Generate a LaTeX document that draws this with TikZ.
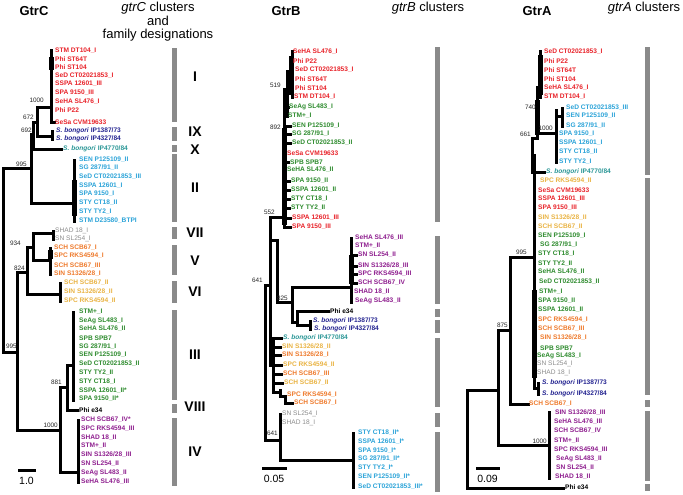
\documentclass[tikz,border=0pt]{standalone}
\usepackage{fontspec}
\setmainfont{Liberation Sans}
\definecolor{cR}{HTML}{E8232A}
\definecolor{cG}{HTML}{2E8B2E}
\definecolor{cC}{HTML}{2BA3D8}
\definecolor{cN}{HTML}{232390}
\definecolor{cT}{HTML}{2A9696}
\definecolor{cY}{HTML}{E9B343}
\definecolor{cO}{HTML}{EE7A2C}
\definecolor{cP}{HTML}{8E1E8E}
\definecolor{cGr}{HTML}{8C8C8C}
\definecolor{cK}{HTML}{000000}
\definecolor{barc}{HTML}{8A8A8A}
\newcommand\Lf[5]{\node[lf,text=#2] (#1) at (#3,#4) {#5};}
\newcommand\Lg[5]{\node[lfr,text=#2] (#1) at (#3,#4) {#5};}
\newcommand\Bs[4]{\node[bs] (#1) at (#2,#3) {#4};}
\newcommand\Sbong{\textit{S. bongori}}
\begin{document}
\begin{tikzpicture}[x=1pt,y=-1pt,
  lf/.style={anchor=west,inner sep=0pt,font=\fontsize{6.6}{7}\selectfont\bfseries},
  lfr/.style={anchor=west,inner sep=0pt,font=\fontsize{6.6}{7}\selectfont},
  bs/.style={anchor=east,inner sep=0pt,font=\fontsize{6.4}{7}\selectfont,text=black!85},
  br/.style={line width=3pt,line join=miter,line cap=rect},
  blob/.style={line width=5pt},
  ttl/.style={font=\fontsize{13}{15}\selectfont\bfseries,inner sep=0pt},
  hdr/.style={font=\fontsize{13}{13.5}\selectfont,inner sep=0pt,align=center},
  rom/.style={font=\fontsize{14}{14}\selectfont\bfseries,inner sep=0pt},
  scl/.style={font=\fontsize{10.5}{12}\selectfont,inner sep=0pt}]
\useasboundingbox (0,0) rectangle (683,495);

% ================= GtrC =================
\node[ttl] (tC) at (34,11) {GtrC};
\node[hdr] (hC) at (158,22) {\textit{gtrC} clusters\\and\\family designations};

\draw[br] (51,51)--(51,122)--(54,122);
\draw[blob] (51,57)--(51,70);
\draw[br] (37,107)--(51,107);
\draw[br] (37,107)--(37,136)--(52,136);
\draw[br] (52,131)--(52,139);
\draw[br] (33,122)--(37,122);
\draw[br] (33,122)--(33,149)--(61,149);
\draw[br] (31,134)--(33,134);
\draw[br] (31,134)--(31,203)--(74,203);
\draw[br] (74,160)--(74,221);
\draw[blob] (74,180)--(74,216);
\draw[br] (3,168)--(31,168);
\draw[br] (3,168)--(3,352)--(17,352);
\draw[br] (17,272)--(17,430)--(60,430);
\draw[br] (17,272)--(27,272);
\draw[br] (27,247)--(27,294)--(60,294);
\draw[br] (60,283)--(60,301);
\draw[br] (27,247)--(33,247);
\draw[br] (33,233)--(33,260);
\draw[br] (33,233)--(53,233);
\draw[br] (53,231)--(53,239);
\draw[br] (33,260)--(50,260);
\draw[br] (50,248)--(50,274);
\draw[blob] (50,250)--(50,259);
\draw[br] (60,387)--(60,472)--(78,472);
\draw[br] (78,420)--(78,482);
\draw[br] (60,387)--(67,387);
\draw[br] (67,365)--(67,410)--(77,410);
\draw[br] (67,365)--(73,365);
\draw[br] (73,312)--(73,400);

\Bs{bc1}{44}{100}{1000}
\Bs{bc2}{34}{117}{672}
\Bs{bc3}{32}{130}{692}
\Bs{bc4}{27}{164}{995}
\Bs{bc5}{21}{243}{934}
\Bs{bc6}{25}{268}{824}
\Bs{bc7}{17}{346}{995}
\Bs{bc8}{62}{382}{881}
\Bs{bc9}{58}{425}{1000}

\Lf{c1}{cR}{55}{51}{STM DT104\_I}
\Lf{c2}{cR}{55}{59}{Phi ST64T}
\Lf{c3}{cR}{55}{67}{Phi ST104}
\Lf{c4}{cR}{55}{76}{SeD CT02021853\_I}
\Lf{c5}{cR}{55}{84}{SSPA 12601\_III}
\Lf{c6}{cR}{55}{93}{SPA 9150\_III}
\Lf{c7}{cR}{55}{102}{SeHA SL476\_I}
\Lf{c8}{cR}{55}{110}{Phi P22}
\Lf{c9}{cR}{55}{122}{SeSa CVM19633}
\Lf{c10}{cN}{56}{131}{\Sbong\ IP1387/73}
\Lf{c11}{cN}{56}{139}{\Sbong\ IP4327/84}
\Lf{c12}{cT}{63}{149}{\Sbong\ IP4770/84}
\Lf{c13}{cC}{79}{160}{SEN P125109\_II}
\Lf{c14}{cC}{79}{168}{SG 287/91\_II}
\Lf{c15}{cC}{79}{177}{SeD CT02021853\_III}
\Lf{c16}{cC}{79}{186}{SSPA 12601\_I}
\Lf{c17}{cC}{79}{194}{SPA 9150\_I}
\Lf{c18}{cC}{79}{203}{STY CT18\_II}
\Lf{c19}{cC}{79}{212}{STY TY2\_I}
\Lf{c20}{cC}{79}{221}{STM D23580\_BTPI}
\Lg{c21}{cGr}{55}{231}{SHAD 18\_I}
\Lg{c22}{cGr}{55}{239}{SN SL254\_I}
\Lf{c23}{cO}{54}{248}{SCH SCB67\_I}
\Lf{c24}{cO}{54}{256}{SPC RKS4594\_I}
\Lf{c25}{cO}{54}{266}{SCH SCB67\_III}
\Lf{c26}{cO}{54}{274}{SIN S1326/28\_I}
\Lf{c27}{cY}{64}{283}{SCH SCB67\_II}
\Lf{c28}{cY}{64}{292}{SIN S1326/28\_II}
\Lf{c29}{cY}{64}{301}{SPC RKS4594\_II}
\Lf{c30}{cG}{79}{312}{STM+\_I}
\Lf{c31}{cG}{79}{321}{SeAg SL483\_I}
\Lf{c32}{cG}{79}{329}{SeHA SL476\_II}
\Lf{c33}{cG}{79}{338}{SPB SPB7}
\Lf{c34}{cG}{79}{347}{SG 287/91\_I}
\Lf{c35}{cG}{79}{355}{SEN P125109\_I}
\Lf{c36}{cG}{79}{364}{SeD CT02021853\_II}
\Lf{c37}{cG}{79}{373}{STY TY2\_II}
\Lf{c38}{cG}{79}{382}{STY CT18\_I}
\Lf{c39}{cG}{79}{391}{SSPA 12601\_II*}
\Lf{c40}{cG}{79}{399}{SPA 9150\_II*}
\Lf{c41}{cK}{79}{410}{Phi e34}
\Lf{c42}{cP}{81}{420}{SCH SCB67\_IV*}
\Lf{c43}{cP}{81}{429}{SPC RKS4594\_III}
\Lf{c44}{cP}{81}{438}{SHAD 18\_II}
\Lf{c45}{cP}{81}{446}{STM+\_II}
\Lf{c46}{cP}{81}{455}{SIN S1326/28\_III}
\Lf{c47}{cP}{81}{464}{SN SL254\_II}
\Lf{c48}{cP}{81}{473}{SeAg SL483\_II}
\Lf{c49}{cP}{81}{482}{SeHA SL476\_III}

\fill[barc] (172,48) rectangle (177,122);
\fill[barc] (172,127) rectangle (177,141);
\fill[barc] (172,145) rectangle (177,152);
\fill[barc] (172,154) rectangle (177,222);
\fill[barc] (172,227) rectangle (177,239);
\fill[barc] (172,245) rectangle (177,275);
\fill[barc] (172,281) rectangle (177,303);
\fill[barc] (172,310) rectangle (177,400);
\fill[barc] (172,404) rectangle (177,413);
\fill[barc] (172,418) rectangle (177,486);
\node[rom] (rI) at (195,77) {I};
\node[rom] (rIX) at (195,132) {IX};
\node[rom] (rX) at (195,150) {X};
\node[rom] (rII) at (195,188) {II};
\node[rom] (rVII) at (195,233) {VII};
\node[rom] (rV) at (195,261) {V};
\node[rom] (rVI) at (195,292) {VI};
\node[rom] (rIII) at (195,355) {III};
\node[rom] (rVIII) at (195,407) {VIII};
\node[rom] (rIV) at (195,452) {IV};

\draw[br] (19,470)--(34,470);
\node[scl] (sC) at (26.5,481) {1.0};

% ================= GtrB =================
\node[ttl] (tB) at (286,11) {GtrB};
\node[hdr] (hB) at (428,8) {\textit{gtrB} clusters};

\draw[br] (292,52)--(292,97);
\draw[blob] (291,56)--(291,95);
\draw[br] (287,72)--(292,72);
\draw[br] (287,72)--(287,116);
\draw[br] (287,107)--(288,107);
\draw[br] (284,90)--(287,90);
\draw[br] (284,90)--(284,227);
\draw[blob] (284,128)--(284,225);
\draw[br] (284,126)--(290,126);
\draw[br] (284,134)--(290,134);
\draw[br] (284,143)--(290,143);
\draw[br] (284,162)--(288,162);
\draw[br] (284,181)--(289,181);
\draw[br] (284,190)--(289,190);
\draw[br] (284,199)--(289,199);
\draw[br] (284,208)--(289,208);
\draw[br] (284,218)--(290,218);
\draw[br] (284,227)--(290,227);
\draw[br] (270,217)--(284,217);
\draw[br] (265,285)--(265,440)--(280,440);
\draw[br] (265,285)--(270,285);
\draw[br] (270,217)--(270,365)--(273,365);
\draw[br] (270,240)--(277,240);
\draw[br] (277,240)--(277,302)--(292,302);
\draw[br] (292,287)--(292,322)--(297,322);
\draw[br] (292,287)--(351,287);
\draw[br] (351,238)--(351,302);
\draw[blob] (351,255)--(351,284);
\draw[br] (351,255)--(356,255);
\draw[br] (351,266)--(356,266);
\draw[br] (351,274)--(356,274);
\draw[br] (351,283)--(356,283);
\draw[br] (297,311)--(297,325)--(310,325);
\draw[br] (297,311)--(328,311);
\draw[br] (310,321)--(310,329);
\draw[br] (273,338)--(273,392);
\draw[br] (273,338)--(281,338);
\draw[br] (273,347)--(280,347);
\draw[br] (273,355)--(280,355);
\draw[br] (273,365)--(281,365);
\draw[br] (273,374)--(281,374);
\draw[br] (273,383)--(282,383);
\draw[br] (273,392)--(280,392);
\draw[br] (280,390)--(280,396)--(285,396)--(285,403)--(292,403);
\draw[br] (280,414)--(280,460)--(353,460);
\draw[br] (353,433)--(353,487);

\Bs{bb1}{281}{85}{519}
\Bs{bb2}{281}{127}{892}
\Bs{bb3}{275}{212}{552}
\Bs{bb4}{263}{280}{641}
\Bs{bb5}{288}{298}{825}
\Bs{bb6}{278}{433}{641}

\Lf{b1}{cR}{293}{52}{SeHA SL476\_I}
\Lf{b2}{cR}{293}{61}{Phi P22}
\Lf{b3}{cR}{295}{70}{SeD CT02021853\_I}
\Lf{b4}{cR}{295}{79}{Phi ST64T}
\Lf{b5}{cR}{295}{88}{Phi ST104}
\Lf{b6}{cR}{294}{97}{STM DT104\_I}
\Lf{b7}{cG}{289}{107}{SeAg SL483\_I}
\Lf{b8}{cG}{288}{116}{STM+\_I}
\Lf{b9}{cG}{292}{126}{SEN P125109\_I}
\Lf{b10}{cG}{292}{134}{SG 287/91\_I}
\Lf{b11}{cG}{292}{143}{SeD CT02021853\_II}
\Lf{b12}{cR}{287}{153}{SeSa CVM19633}
\Lf{b13}{cG}{290}{162}{SPB SPB7}
\Lf{b14}{cG}{287}{170}{SeHA SL476\_II}
\Lf{b15}{cG}{291}{181}{SPA 9150\_II}
\Lf{b16}{cG}{291}{190}{SSPA 12601\_II}
\Lf{b17}{cG}{291}{199}{STY CT18\_I}
\Lf{b18}{cG}{291}{208}{STY TY2\_II}
\Lf{b19}{cR}{292}{218}{SSPA 12601\_III}
\Lf{b20}{cR}{292}{227}{SPA 9150\_III}
\Lf{b21}{cP}{355}{238}{SeHA SL476\_III}
\Lf{b22}{cP}{355}{246}{STM+\_II}
\Lf{b23}{cP}{358}{255}{SN SL254\_II}
\Lf{b24}{cP}{358}{266}{SIN S1326/28\_III}
\Lf{b25}{cP}{358}{274}{SPC RKS4594\_III}
\Lf{b26}{cP}{358}{283}{SCH SCB67\_IV}
\Lf{b27}{cP}{354}{292}{SHAD 18\_II}
\Lf{b28}{cP}{355}{301}{SeAg SL483\_II}
\Lf{b29}{cK}{330}{311}{Phi e34}
\Lf{b30}{cN}{313}{321}{\Sbong\ IP1387/73}
\Lf{b31}{cN}{314}{329}{\Sbong\ IP4327/84}
\Lf{b32}{cT}{283}{338}{\Sbong\ IP4770/84}
\Lf{b33}{cY}{282}{347}{SIN S1326/28\_II}
\Lf{b34}{cO}{282}{355}{SIN S1326/28\_I}
\Lf{b35}{cY}{283}{365}{SPC RKS4594\_II}
\Lf{b36}{cO}{283}{374}{SCH SCB67\_III}
\Lf{b37}{cY}{284}{383}{SCH SCB67\_II}
\Lf{b38}{cO}{287}{395}{SPC RKS4594\_I}
\Lf{b39}{cO}{294}{403}{SCH SCB67\_I}
\Lg{b40}{cGr}{282}{414}{SN SL254\_I}
\Lg{b41}{cGr}{282}{423}{SHAD 18\_I}
\Lf{b42}{cC}{358}{433}{STY CT18\_II*}
\Lf{b43}{cC}{358}{442}{SSPA 12601\_I*}
\Lf{b44}{cC}{358}{451}{SPA 9150\_I*}
\Lf{b45}{cC}{358}{459}{SG 287/91\_II*}
\Lf{b46}{cC}{358}{468}{STY TY2\_I*}
\Lf{b47}{cC}{358}{477}{SEN P125109\_II*}
\Lf{b48}{cC}{358}{487}{SeD CT02021853\_III*}

\fill[barc] (435,47) rectangle (440,222);
\fill[barc] (435,236) rectangle (440,304);
\fill[barc] (435,309) rectangle (440,317);
\fill[barc] (435,320) rectangle (440,333);
\fill[barc] (435,338) rectangle (440,407);
\fill[barc] (435,413) rectangle (440,427);
\fill[barc] (435,432) rectangle (440,492);

\draw[br] (263,468)--(285,468);
\node[scl] (sB) at (274,479) {0.05};

% ================= GtrA =================
\node[ttl] (tA) at (537,11) {GtrA};
\node[hdr] (hA) at (644,8) {\textit{gtrA} clusters};

\draw[br] (540,52)--(540,97);
\draw[blob] (540,55)--(540,95);
\draw[br] (537,92)--(540,92);
\draw[br] (537,88)--(537,138);
\draw[blob] (537,100)--(537,135);
\draw[br] (537,133)--(556,133);
\draw[br] (556,110)--(556,162);
\draw[br] (556,116)--(562,116);
\draw[br] (562,108)--(562,126);
\draw[br] (532,138)--(537,138);
\draw[br] (532,138)--(532,172)--(544,172);
\draw[br] (532,155)--(534,155);
\draw[br] (534,155)--(534,388);
\draw[blob] (534,290)--(534,378);
\draw[br] (534,388)--(538,388);
\draw[br] (538,383)--(538,394);
\draw[br] (510,257)--(534,257);
\draw[br] (510,257)--(510,404)--(528,404);
\draw[br] (498,330)--(510,330);
\draw[br] (498,330)--(498,445)--(549,445);
\draw[br] (549,412)--(549,478);
\draw[br] (467,390)--(498,390);
\draw[br] (467,390)--(467,488)--(563,488);

\Bs{ba1}{536}{107}{740}
\Bs{ba2}{553}{128}{1000}
\Bs{ba3}{531}{134}{661}
\Bs{ba4}{527}{252}{995}
\Bs{ba5}{508}{325}{875}
\Bs{ba6}{547}{441}{1000}

\Lf{a1}{cR}{544}{52}{SeD CT02021853\_I}
\Lf{a2}{cR}{544}{61}{Phi P22}
\Lf{a3}{cR}{544}{70}{Phi ST64T}
\Lf{a4}{cR}{544}{79}{Phi ST104}
\Lf{a5}{cR}{544}{88}{SeHA SL476\_I}
\Lf{a6}{cR}{544}{97}{STM DT104\_I}
\Lf{a7}{cC}{566}{108}{SeD CT02021853\_III}
\Lf{a8}{cC}{566}{116}{SEN P125109\_II}
\Lf{a9}{cC}{566}{126}{SG 287/91\_II}
\Lf{a10}{cC}{559}{134}{SPA 9150\_I}
\Lf{a11}{cC}{559}{143}{SSPA 12601\_I}
\Lf{a12}{cC}{559}{152}{STY CT18\_II}
\Lf{a13}{cC}{559}{162}{STY TY2\_I}
\Lf{a14}{cT}{546}{172}{\Sbong\ IP4770/84}
\Lf{a15}{cY}{540}{181}{SPC RKS4594\_II}
\Lf{a16}{cR}{538}{190}{SeSa CVM19633}
\Lf{a17}{cR}{538}{199}{SSPA 12601\_III}
\Lf{a18}{cR}{538}{208}{SPA 9150\_III}
\Lf{a19}{cY}{538}{218}{SIN S1326/28\_II}
\Lf{a20}{cY}{538}{227}{SCH SCB67\_II}
\Lf{a21}{cG}{538}{236}{SEN P125109\_I}
\Lf{a22}{cG}{540}{245}{SG 287/91\_I}
\Lf{a23}{cG}{538}{254}{STY CT18\_I}
\Lf{a24}{cG}{538}{264}{STY TY2\_II}
\Lf{a25}{cG}{538}{272}{SeHA SL476\_II}
\Lf{a26}{cG}{539}{282}{SeD CT02021853\_II}
\Lf{a27}{cG}{539}{292}{STM+\_I}
\Lf{a28}{cG}{538}{301}{SPA 9150\_II}
\Lf{a29}{cG}{538}{310}{SSPA 12601\_II}
\Lf{a30}{cO}{538}{320}{SPC RKS4594\_I}
\Lf{a31}{cO}{538}{329}{SCH SCB67\_III}
\Lf{a32}{cO}{540}{338}{SIN S1326/28\_I}
\Lf{a33}{cG}{540}{348}{SPB SPB7}
\Lf{a34}{cG}{537}{356}{SeAg SL483\_I}
\Lg{a35}{cGr}{537}{364}{SN SL254\_I}
\Lg{a36}{cGr}{537}{373}{SHAD 18\_I}
\Lf{a37}{cN}{542}{383}{\Sbong\ IP1387/73}
\Lf{a38}{cN}{542}{394}{\Sbong\ IP4327/84}
\Lf{a39}{cO}{529}{404}{SCH SCB67\_I}
\Lf{a40}{cP}{555}{413}{SIN S1326/28\_III}
\Lf{a41}{cP}{554}{422}{SeHA SL476\_III}
\Lf{a42}{cP}{554}{431}{SCH SCB67\_IV}
\Lf{a43}{cP}{554}{441}{STM+\_II}
\Lf{a44}{cP}{554}{450}{SPC RKS4594\_III}
\Lf{a45}{cP}{556}{459}{SeAg SL483\_II}
\Lf{a46}{cP}{556}{468}{SN SL254\_II}
\Lf{a47}{cP}{555}{477}{SHAD 18\_II}
\Lf{a48}{cK}{565}{487}{Phi e34}

\fill[barc] (645,47) rectangle (650,175);
\fill[barc] (645,178) rectangle (650,395);
\fill[barc] (645,400) rectangle (650,407);
\fill[barc] (645,411) rectangle (650,481);
\fill[barc] (645,484) rectangle (650,491);

\draw[br] (477,468)--(498,468);
\node[scl] (sA) at (487.5,479) {0.09};
\end{tikzpicture}
\end{document}
